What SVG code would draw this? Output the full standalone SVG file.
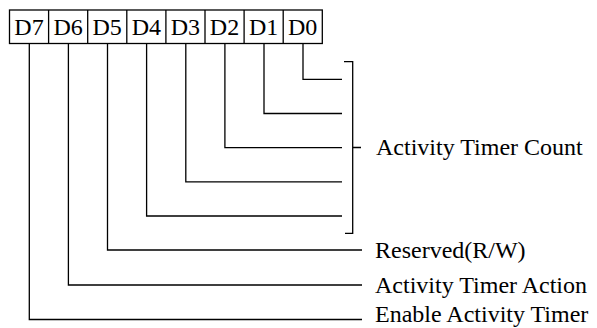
<svg xmlns="http://www.w3.org/2000/svg" width="597" height="328" viewBox="0 0 597 328">
<style>
.ln{fill:none;stroke:#000;stroke-width:1.3}
.t{font-family:"Liberation Serif","Times New Roman",serif;font-size:24px;fill:#000}
</style>
<rect width="597" height="328" fill="#fff"/>
<g id="register">
<rect class="ln" x="9.5" y="10" width="312.8" height="33.5"/>
<path class="ln" d="M48.6 10V43.5M87.7 10V43.5M126.8 10V43.5M165.9 10V43.5M205 10V43.5M244.1 10V43.5M283.2 10V43.5"/>
<text class="t" x="29" y="35" text-anchor="middle">D7</text>
<text class="t" x="68.1" y="35" text-anchor="middle">D6</text>
<text class="t" x="107.2" y="35" text-anchor="middle">D5</text>
<text class="t" x="146.3" y="35" text-anchor="middle">D4</text>
<text class="t" x="185.4" y="35" text-anchor="middle">D3</text>
<text class="t" x="224.5" y="35" text-anchor="middle">D2</text>
<text class="t" x="263.6" y="35" text-anchor="middle">D1</text>
<text class="t" x="302.7" y="35" text-anchor="middle">D0</text>
</g>
<g id="connectors">
<path class="ln" d="M303 43.5V79.3H342"/>
<path class="ln" d="M264 43.5V113.5H342"/>
<path class="ln" d="M224.9 43.5V147.7H342"/>
<path class="ln" d="M185.8 43.5V181.9H342"/>
<path class="ln" d="M146.6 43.5V216H342"/>
<path class="ln" d="M107.5 43.5V250H362"/>
<path class="ln" d="M68.4 43.5V285H362"/>
<path class="ln" d="M29.3 43.5V319.5H362"/>
</g>
<g id="bracket">
<path class="ln" d="M344 61.7H352.7V233.3H345M352.7 147.5H361"/>
</g>
<g id="labels">
<text class="t" x="376" y="155">Activity Timer Count</text>
<text class="t" x="375" y="258">Reserved(R/W)</text>
<text class="t" x="375" y="293">Activity Timer Action</text>
<text class="t" x="375" y="322">Enable Activity Timer</text>
</g>
</svg>
